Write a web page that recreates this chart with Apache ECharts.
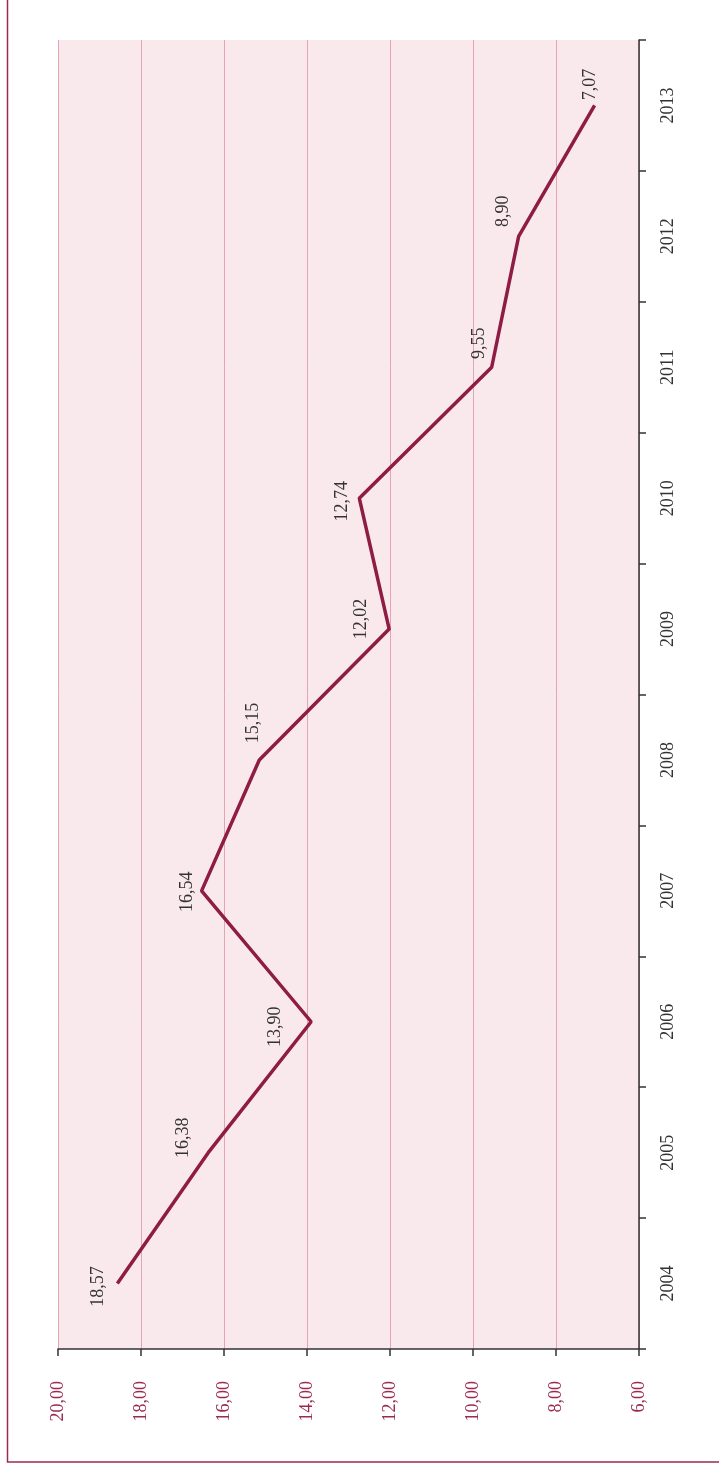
<!DOCTYPE html>
<html>
<head>
<meta charset="utf-8">
<script src="https://cdn.jsdelivr.net/npm/echarts@6/dist/echarts.min.js"></script>
<style>
  html, body { margin: 0; padding: 0; background: #fff; }
  #chart { width: 719px; height: 1467px; }
</style>
</head>
<body>
<div id="chart"></div>
<script>
const years = ['2004', '2005', '2006', '2007', '2008', '2009', '2010', '2011', '2012', '2013'];
const values = [18.57, 16.38, 13.90, 16.54, 15.15, 12.02, 12.74, 9.55, 8.90, 7.07];
const valueMin = 6;
const valueMax = 20;
const valueStep = 2;

// screen nudges (x, y) for the value labels, relative to their point
const labelShift = [[-19, 3], [-25, -15], [-36, 5], [-14, 1], [-6, -37], [-28, -10], [-17, 3], [-12, -24], [-15, -25], [-4, -21]];

const comma = v => v.toFixed(2).replace('.', ',');
const serif = '"Liberation Serif", "DejaVu Serif", serif';

const myChart = echarts.init(document.getElementById('chart'));

const option = {
  animation: false,
  backgroundColor: '#fff',
  graphic: [
    {
      type: 'rect',
      shape: { x: 7.5, y: -5, width: 720, height: 1467 },
      style: { fill: 'none', stroke: '#9b2a50', lineWidth: 1.5 }
    }
  ],
  grid: {
    left: 58,
    right: 80,
    top: 40,
    bottom: 118,
    show: true,
    backgroundColor: '#f9e9ec',
    borderWidth: 0
  },
  xAxis: {
    type: 'value',
    min: valueMin,
    max: valueMax,
    interval: valueStep,
    inverse: true,
    position: 'bottom',
    axisLine: { show: true, lineStyle: { color: '#333', width: 1.5 } },
    axisTick: { show: true, length: 7, lineStyle: { color: '#333', width: 1.5 } },
    splitLine: { show: true, lineStyle: { color: '#e3a5b5', width: 1 } },
    axisLabel: {
      rotate: 90,
      margin: 32,
      color: '#9b2a50',
      fontFamily: serif,
      fontSize: 18,
      formatter: comma
    }
  },
  yAxis: {
    type: 'category',
    data: years,
    position: 'right',
    boundaryGap: true,
    axisLine: { show: true, lineStyle: { color: '#333', width: 1.5 } },
    axisTick: { show: true, length: 7, lineStyle: { color: '#333', width: 1.5 } },
    splitLine: { show: false },
    axisLabel: {
      rotate: 90,
      margin: 20,
      color: '#333',
      fontFamily: serif,
      fontSize: 18
    }
  },
  series: [
    {
      type: 'line',
      data: values,
      symbol: 'circle',
      symbolSize: 0.1,
      itemStyle: { color: '#8e1c44' },
      lineStyle: { color: '#8e1c44', width: 3.5 },
      label: {
        show: true,
        position: 'left',
        distance: 0,
        rotate: 90,
        align: 'center',
        verticalAlign: 'middle',
        color: '#333',
        fontFamily: serif,
        fontSize: 18,
        formatter: p => comma(p.value)
      },
      // the label is rotated, so its dx/dy run along the turned text
      labelLayout: p => ({ dx: -labelShift[p.dataIndex][1], dy: labelShift[p.dataIndex][0] })
    }
  ]
};

myChart.setOption(option);
</script>
</body>
</html>
